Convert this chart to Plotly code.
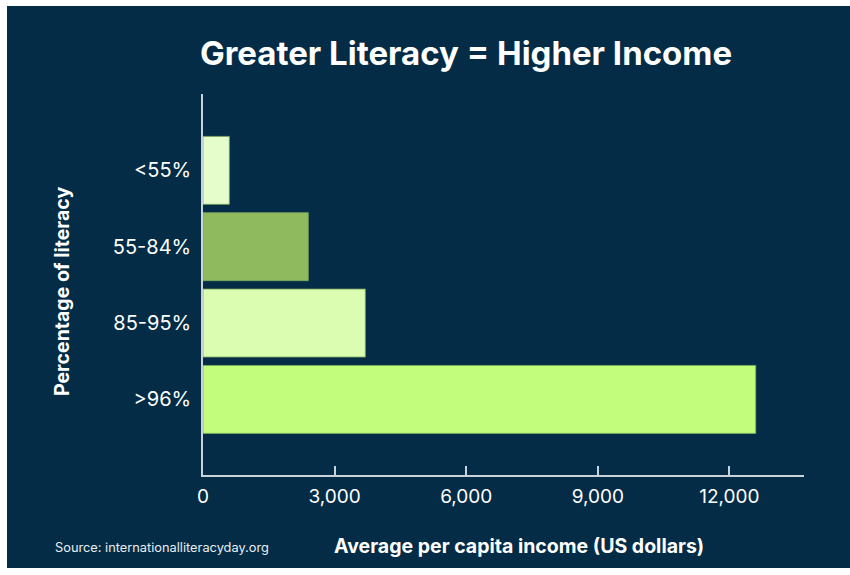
import plotly.graph_objects as go

categories = ["<55%", "55-84%", "85-95%", ">96%"]
income = [600, 2400, 3700, 12600]
bar_colors = ["#e4fdca", "#8fba5e", "#dafdb2", "#c2fe7c"]
x_tickvals = [0, 3000, 6000, 9000, 12000, 13700]
x_ticktext = ["0", "3,000", "6,000", "9,000", "12,000", ""]

BG = "#042c46"
AX = "#c9d3da"
FONT = "Inter"

W, H = 850, 575
L, R, T, B = 203, 46, 94, 100
pw = W - L - R
ph = H - T - B

fig = go.Figure()
fig.add_trace(go.Bar(
    x=income, y=categories, orientation="h",
    marker=dict(color=bar_colors, line=dict(color="#7fa860", width=0.8)),
    hoverinfo="x+y",
))

def px2paper_x(px):
    return (px - L) / pw

def px2paper_y(py):
    return (H - B - py) / ph

fig.update_layout(
    width=W, height=H,
    margin=dict(l=L, r=R, t=T, b=B),
    paper_bgcolor="white",
    plot_bgcolor="rgba(0,0,0,0)",
    showlegend=False,
    bargap=0.11,
    font=dict(family=FONT, color="white"),
    title=dict(text="<b>Greater Literacy = Higher Income</b>",
               x=466 / W, xanchor="center", y=1 - 53 / H, yanchor="middle",
               font=dict(size=33, color="white", family=FONT)),
    xaxis=dict(range=[0, 13700], tickvals=x_tickvals, ticktext=x_ticktext,
               showgrid=False, zeroline=False, showline=True, linecolor=AX, linewidth=1.5,
               ticks="inside", ticklen=9, tickcolor=AX, tickwidth=1.5,
               tickfont=dict(size=19, color="white", family=FONT), ticklabelstandoff=3),
    yaxis=dict(categoryorder="array", categoryarray=categories, range=[3.99, -1.0],
               showgrid=False, zeroline=False, showline=True, linecolor=AX, linewidth=1.5,
               ticks="", tickfont=dict(size=20, color="white", family=FONT), ticklabelstandoff=6),
    shapes=[dict(type="rect", xref="paper", yref="paper", layer="below",
                 x0=px2paper_x(7), x1=px2paper_x(W + 5),
                 y0=px2paper_y(568), y1=px2paper_y(6),
                 fillcolor=BG, line=dict(width=0))],
    annotations=[
        dict(text="<b>Percentage of literacy</b>", textangle=-90,
             xref="paper", yref="paper", x=px2paper_x(62), y=px2paper_y(292),
             xanchor="center", yanchor="middle", showarrow=False,
             font=dict(size=19.5, color="white", family=FONT)),
        dict(text="<b>Average per capita income (US dollars)</b>",
             xref="paper", yref="paper", x=px2paper_x(519), y=px2paper_y(546),
             xanchor="center", yanchor="middle", showarrow=False,
             font=dict(size=19.5, color="white", family=FONT)),
        dict(text="Source: internationalliteracyday.org",
             xref="paper", yref="paper", x=px2paper_x(53), y=px2paper_y(547),
             xanchor="left", yanchor="middle", showarrow=False,
             font=dict(size=12.8, color="#e8eef2", family=FONT)),
    ],
)

fig.write_html("out.html")
